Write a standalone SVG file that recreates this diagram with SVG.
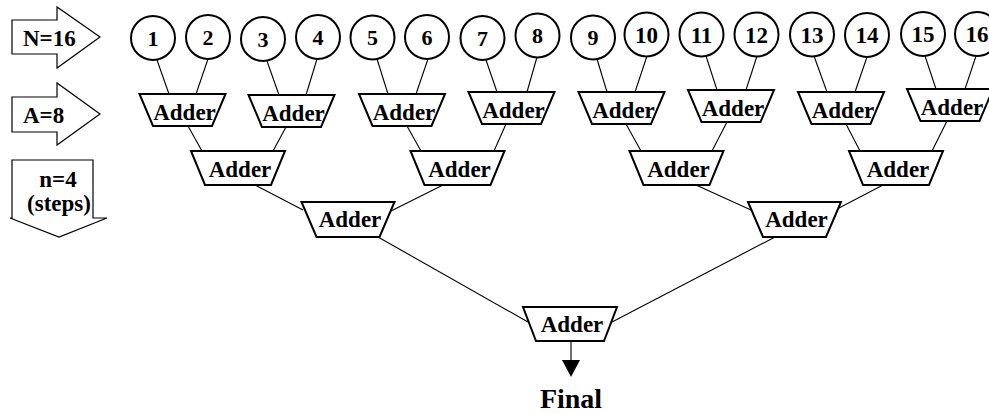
<svg xmlns="http://www.w3.org/2000/svg" width="989" height="414" viewBox="0 0 989 414">
  <style>
    .bg { fill: #ffffff; }
    .blk { fill: #ffffff; stroke: #000000; stroke-width: 1.2; }
    .num { fill: #ffffff; stroke: #000000; stroke-width: 2; }
    .add { fill: #ffffff; stroke: #000000; stroke-width: 2; stroke-linejoin: miter; }
    .wire { stroke: #000000; stroke-width: 1.1; fill: none; }
    .tip { fill: #000000; }
    .lbl { font-size: 23px; }
    .d1 { font-size: 22px; text-anchor: middle; }
    .d2 { font-size: 23px; text-anchor: middle; }
    .at { font-size: 23px; text-anchor: middle; }
    .fin { font-size: 28px; text-anchor: middle; }
  </style>
  <rect class="bg" x="0" y="0" width="989" height="414"/>

  <g font-family="'Liberation Serif', 'DejaVu Serif', serif" font-weight="bold" fill="#000000">
  <!-- legend block arrows -->
  <g id="legend-n16">
    <polygon class="blk" points="12,20 57,20 57,7 100,37 57,68 57,54 12,54"/>
    <text class="lbl" x="23" y="46">N=16</text>
  </g>
  <g id="legend-a8">
    <polygon class="blk" points="12,97 57,97 57,83 100,114 57,145 57,132 12,132"/>
    <text class="lbl" x="23" y="123">A=8</text>
  </g>
  <g id="legend-steps">
    <polygon class="blk" points="12,160 93,160 93,218 107,218 59,237 10,218 12,218"/>
    <text class="lbl" x="58" y="187" text-anchor="middle">n=4</text>
    <text class="lbl" x="59" y="211" text-anchor="middle">(steps)</text>
  </g>

  <!-- connectors -->
  <g id="connectors">
    <!-- inputs to first adder row -->
    <line class="wire" x1="157" y1="60" x2="169" y2="94"/>
    <line class="wire" x1="208" y1="59" x2="196" y2="94"/>
    <line class="wire" x1="267" y1="61" x2="279" y2="95"/>
    <line class="wire" x1="317" y1="59" x2="306" y2="95"/>
    <line class="wire" x1="377" y1="59" x2="388" y2="94"/>
    <line class="wire" x1="428" y1="59" x2="416" y2="94"/>
    <line class="wire" x1="486" y1="60" x2="497" y2="92"/>
    <line class="wire" x1="537" y1="57" x2="527" y2="92"/>
    <line class="wire" x1="597" y1="59" x2="607" y2="92"/>
    <line class="wire" x1="647" y1="56" x2="635" y2="92"/>
    <line class="wire" x1="706" y1="56" x2="717" y2="90"/>
    <line class="wire" x1="757" y1="56" x2="746" y2="90"/>
    <line class="wire" x1="814" y1="56" x2="827" y2="92"/>
    <line class="wire" x1="867" y1="57" x2="855" y2="92"/>
    <line class="wire" x1="925" y1="56" x2="936" y2="89"/>
    <line class="wire" x1="976" y1="56" x2="965" y2="89"/>
    <!-- first row to second row -->
    <line class="wire" x1="188" y1="126" x2="202" y2="151"/>
    <line class="wire" x1="286" y1="127" x2="273" y2="151"/>
    <line class="wire" x1="407" y1="126" x2="421" y2="151"/>
    <line class="wire" x1="506" y1="124" x2="494" y2="151"/>
    <line class="wire" x1="626" y1="124" x2="641" y2="151"/>
    <line class="wire" x1="727" y1="122" x2="712" y2="151"/>
    <line class="wire" x1="846" y1="124" x2="860" y2="151"/>
    <line class="wire" x1="947" y1="121" x2="932" y2="151"/>
    <!-- second row to third row -->
    <line class="wire" x1="255" y1="185" x2="303" y2="210"/>
    <line class="wire" x1="443" y1="185" x2="391" y2="211"/>
    <line class="wire" x1="696" y1="185" x2="751" y2="210"/>
    <line class="wire" x1="883" y1="185" x2="839" y2="208"/>
    <!-- third row to final adder -->
    <line class="wire" x1="378" y1="237" x2="528" y2="322"/>
    <line class="wire" x1="775" y1="237" x2="612" y2="322"/>
    <!-- result -->
    <line class="wire" x1="571" y1="341" x2="571" y2="361"/>
    <polygon class="tip" points="562,360 580,360 571,377"/>
  </g>

  <!-- inputs -->
  <g id="in1"><circle class="num" cx="153" cy="38" r="22"/><text class="d1" x="153" y="45.5">1</text></g>
  <g id="in2"><circle class="num" cx="208" cy="37" r="22"/><text class="d1" x="208" y="44.5">2</text></g>
  <g id="in3"><circle class="num" cx="263" cy="39" r="22"/><text class="d1" x="263" y="46.5">3</text></g>
  <g id="in4"><circle class="num" cx="318" cy="37" r="22"/><text class="d1" x="318" y="44.5">4</text></g>
  <g id="in5"><circle class="num" cx="372.5" cy="37.5" r="22"/><text class="d1" x="372.5" y="45">5</text></g>
  <g id="in6"><circle class="num" cx="427" cy="37" r="22"/><text class="d1" x="427" y="44.5">6</text></g>
  <g id="in7"><circle class="num" cx="482.5" cy="38" r="22"/><text class="d1" x="482.5" y="45.5">7</text></g>
  <g id="in8"><circle class="num" cx="537.5" cy="35.5" r="22"/><text class="d1" x="537.5" y="43">8</text></g>
  <g id="in9"><circle class="num" cx="593" cy="37.5" r="22"/><text class="d1" x="593" y="45">9</text></g>
  <g id="in10"><circle class="num" cx="646.5" cy="34.5" r="22"/><text class="d2" x="646.5" y="42.5">10</text></g>
  <g id="in11"><circle class="num" cx="701.5" cy="34.5" r="22"/><text class="d2" x="701.5" y="42.5">11</text></g>
  <g id="in12"><circle class="num" cx="756.5" cy="34.5" r="22"/><text class="d2" x="756.5" y="42.5">12</text></g>
  <g id="in13"><circle class="num" cx="812" cy="34.5" r="22"/><text class="d2" x="812" y="42.5">13</text></g>
  <g id="in14"><circle class="num" cx="867" cy="35" r="22"/><text class="d2" x="867" y="43">14</text></g>
  <g id="in15"><circle class="num" cx="923" cy="34" r="22"/><text class="d2" x="923" y="42">15</text></g>
  <g id="in16"><circle class="num" cx="977" cy="34" r="22"/><text class="d2" x="977" y="42">16</text></g>

  <!-- first adder row -->
  <g id="add1-1"><polygon class="add" points="139.5,94 225.5,94 212,126 153,126"/><text class="at" x="184.5" y="120">Adder</text></g>
  <g id="add1-2"><polygon class="add" points="248.5,95 334.5,95 321,127 262,127"/><text class="at" x="293.5" y="121">Adder</text></g>
  <g id="add1-3"><polygon class="add" points="359,94 445,94 431.5,126 372.5,126"/><text class="at" x="404" y="120">Adder</text></g>
  <g id="add1-4"><polygon class="add" points="468.5,92 554.5,92 541,124 482,124"/><text class="at" x="513.5" y="118">Adder</text></g>
  <g id="add1-5"><polygon class="add" points="578.5,92 664.5,92 651,124 592,124"/><text class="at" x="623.5" y="118">Adder</text></g>
  <g id="add1-6"><polygon class="add" points="688,90 774,90 760.5,122 701.5,122"/><text class="at" x="733" y="116">Adder</text></g>
  <g id="add1-7"><polygon class="add" points="798,92 884,92 870.5,124 811.5,124"/><text class="at" x="843" y="118">Adder</text></g>
  <g id="add1-8"><polygon class="add" points="907,89 993,89 979.5,121 920.5,121"/><text class="at" x="952" y="115">Adder</text></g>

  <!-- second adder row -->
  <g id="add2-1"><polygon class="add" points="191,151 285,151 271,185 205,185"/><text class="at" x="240" y="177">Adder</text></g>
  <g id="add2-2"><polygon class="add" points="410.5,151 504.5,151 490.5,185 424.5,185"/><text class="at" x="459.5" y="177">Adder</text></g>
  <g id="add2-3"><polygon class="add" points="629.5,151 723.5,151 709.5,185 643.5,185"/><text class="at" x="678.5" y="177">Adder</text></g>
  <g id="add2-4"><polygon class="add" points="849,151 943,151 929,185 863,185"/><text class="at" x="898" y="177">Adder</text></g>

  <!-- third adder row -->
  <g id="add3-1"><polygon class="add" points="301.5,202 394.5,202 379.5,237 316.5,237"/><text class="at" x="350" y="227">Adder</text></g>
  <g id="add3-2"><polygon class="add" points="748,202 841,202 826,237 763,237"/><text class="at" x="796.5" y="227">Adder</text></g>

  <!-- final adder and result -->
  <g id="add4"><polygon class="add" points="523,307 617,307 604,341 536,341"/><text class="at" x="572" y="332">Adder</text></g>
  <g id="result"><text class="fin" x="571" y="408">Final</text></g>
  </g>
</svg>
